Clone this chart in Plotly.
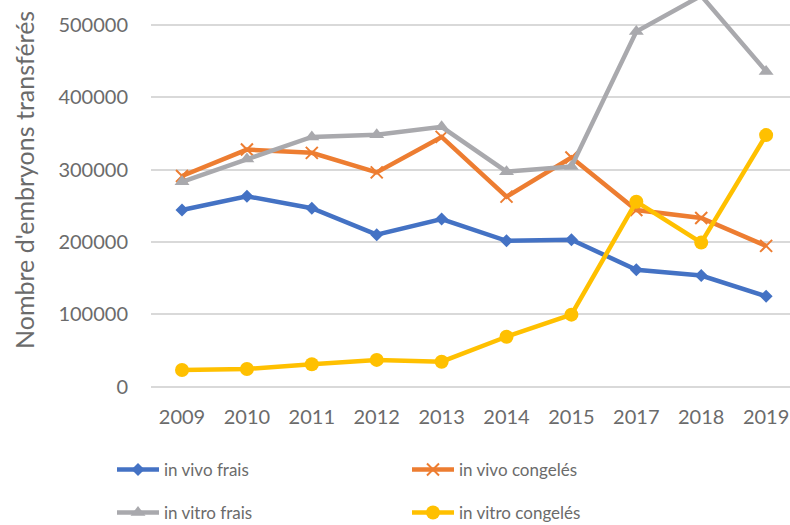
import plotly.graph_objects as go

# Transfer years (2016 is absent from the series)
years = ["2009", "2010", "2011", "2012", "2013", "2014", "2015", "2017", "2018", "2019"]

# Embryos transferred per category
in_vivo_frais = [244000, 263000, 246500, 210000, 231500, 201500, 203000, 161500, 153500, 125000]
in_vivo_congeles = [291000, 327500, 323000, 296000, 345000, 262500, 316500, 244000, 233000, 194500]
in_vitro_frais = [283000, 314500, 345000, 348000, 359000, 297000, 304000, 490500, 540000, 435500]
in_vitro_congeles = [23000, 24500, 31000, 37000, 34500, 69000, 99500, 255500, 199000, 347500]

series_names = ["in vivo frais", "in vivo congelés", "in vitro frais", "in vitro congelés"]
y_ticks = [0, 100000, 200000, 300000, 400000, 500000]

FONT = "Lato"
TEXT = "#6b6b6b"

fig = go.Figure()

# one legend box per series, laid out as a 2x2 grid below the chart
styles = [
    (in_vivo_frais, "#4472C4", dict(symbol="diamond", size=10), "legend"),
    (in_vivo_congeles, "#ED7D31", dict(symbol="x-thin", size=12, line=dict(width=2, color="#ED7D31")), "legend2"),
    (in_vitro_frais, "#A9A9AD", dict(symbol="triangle-up", size=13), "legend3"),
    (in_vitro_congeles, "#FFC000", dict(symbol="circle", size=14), "legend4"),
]

for name, (vals, color, marker, leg) in zip(series_names, styles):
    fig.add_trace(go.Scatter(
        x=years, y=vals, name=name, mode="lines+markers",
        line=dict(color=color, width=4.5),
        marker=dict(color=color, **marker),
        legend=leg,
    ))

legend_common = dict(
    orientation="h", xref="container", yref="container",
    xanchor="left", yanchor="middle", itemwidth=42,
    font=dict(family=FONT, size=17, color=TEXT),
    bgcolor="rgba(0,0,0,0)",
)
col_x = [112 / 790, 407 / 790]
row_y = [1 - 470 / 525, 1 - 513 / 525]

fig.update_layout(
    width=790, height=525,
    margin=dict(l=151, r=0, t=0, b=129),
    paper_bgcolor="white", plot_bgcolor="white",
    font=dict(family=FONT, color=TEXT),
    showlegend=True,
    legend=dict(x=col_x[0], y=row_y[0], **legend_common),
    legend2=dict(x=col_x[1], y=row_y[0], **legend_common),
    legend3=dict(x=col_x[0], y=row_y[1], **legend_common),
    legend4=dict(x=col_x[1], y=row_y[1], **legend_common),
    xaxis=dict(
        type="category", categoryorder="array", categoryarray=years,
        range=[-0.478, 9.368], showgrid=False, showline=False, zeroline=False,
        tickfont=dict(family=FONT, size=20, color=TEXT),
        ticks="", ticklabelstandoff=7,
    ),
    yaxis=dict(
        range=[-12840, 534100], tickvals=y_ticks, ticktext=[str(v) for v in y_ticks],
        showgrid=True, gridcolor="#D9D9D9", gridwidth=1.5, zeroline=False, showline=False,
        tickfont=dict(family=FONT, size=20, color=TEXT),
        ticks="", ticklabelstandoff=22,
    ),
    annotations=[dict(
        text="Nombre d'embryons transférés", textangle=-90,
        xref="paper", yref="paper", x=(24 - 151) / 639, y=(396 - 180) / 396,
        xanchor="center", yanchor="middle", showarrow=False,
        font=dict(family=FONT, size=25, color=TEXT),
    )],
)

fig.write_html("out.html")
